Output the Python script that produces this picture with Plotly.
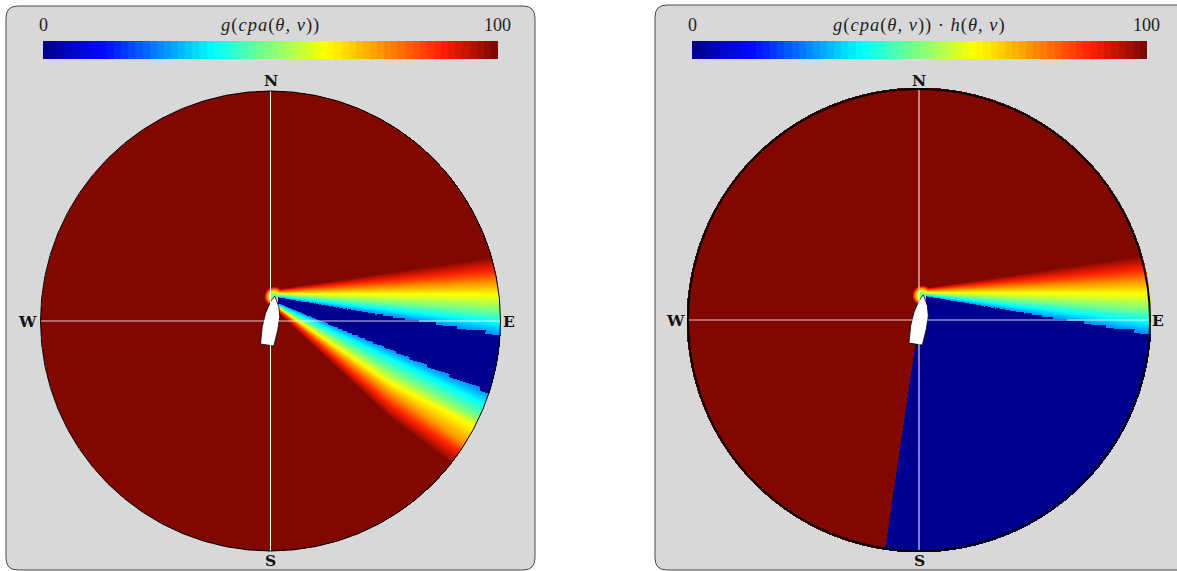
import numpy as np
import plotly.graph_objects as go

W, H = 1177, 571

# --- values; speed-plane coordinates are in units of the circle radius ---
color_stops = [[0, "rgb(0,0,143)"], [0.13, "rgb(0,10,255)"], [0.37, "rgb(0,255,255)"],
               [0.625, "rgb(255,255,0)"], [0.882, "rgb(255,32,0)"], [1, "rgb(128,8,0)"]]
bar_min, bar_max = 0, 100
bar_steps = list(np.linspace(bar_min, bar_max, 64))

band_levels = [26, 37, 50, 62, 75, 87, 99]
upper_cols = [0.029, 0.884, 1.0]
upper_band = [
    [0.1028, 0.1071, 0.1129, 0.1187, 0.1259, 0.1317, 0.1375],
    [-0.0407, 0.0042, 0.0549, 0.1129, 0.1636, 0.2071, 0.2621],
    [-0.0602, -0.0098, 0.0470, 0.1121, 0.1687, 0.2173, 0.2790],
]
lower_cols = [0.0348, 0.0652, 0.5217, 0.8696, 1.0]
lower_band = [
    [0.0761, 0.0696, 0.0652, 0.0565, 0.0500, 0.0435, 0.0326],
    [0.0630, 0.0522, 0.0435, 0.0348, 0.0283, 0.0217, 0.0043],
    [-0.1261, -0.1630, -0.2217, -0.2696, -0.3174, -0.3652, -0.4200],
    [-0.2783, -0.3304, -0.4043, -0.4478, -0.5522, -0.6000, -0.6783],
    [-0.3348, -0.3935, -0.4739, -0.5152, -0.6435, -0.6870, -0.7739],
]
blob_center = [0.0143, 0.1057]
blob_dist = [0.013, 0.0217, 0.0304, 0.037, 0.0435]
blob_vals = [50, 62, 75, 87, 100]
astern_cut_slope = 0.148   # X/Y of the stern ray in the right-hand panel

boat_x = [0.0187, 0.0361, 0.0404, 0.0317, 0.0143, -0.0435, -0.0361, -0.0217, 0.0, 0.0187]
boat_y = [0.1087, 0.0622, 0.0187, -0.0391, -0.1087, -0.1, -0.0248, 0.0335, 0.0839, 0.1087]

titles = ["<i>g</i>(<i>cpa</i>(<i>θ, v</i>))", "<i>g</i>(<i>cpa</i>(<i>θ, v</i>)) · <i>h</i>(<i>θ, v</i>)"]
bar_ticks = ["0", "100"]
compass = ["N", "S", "W", "E"]

PANELS = [dict(cx=270.5, cy=321, R=230, fieldR=230.0, rim=1.0, box=(6, 6, 535, 570),
               bar=(43, 498)),
          dict(cx=919, cy=320, R=231, fieldR=232.5, rim=2.0, box=(655, 5, 1240, 570),
               bar=(692, 1147))]


def band(X, Y, cols, table):
    """Value of the band at each point, from the table of level edges by column."""
    tab = np.asarray(table)
    edges = np.stack([np.interp(X, cols, tab[:, j]) for j in range(tab.shape[1])], axis=-1)
    out = np.zeros_like(X)
    for j in range(len(band_levels) - 1):
        a, b = edges[..., j], edges[..., j + 1]
        t = np.clip((Y - a) / np.maximum(b - a, 1e-6), 0, 1)
        out = np.where(Y >= a, band_levels[j] + t * (band_levels[j + 1] - band_levels[j]), out)
    return np.where(Y >= edges[..., -1], 100, out)


def upper(X, Y):
    return band(X, Y, upper_cols, upper_band)


def lower(X, Y):
    return band(X, -Y, lower_cols, -np.asarray(lower_band))


def snapped(X, Y, step=np.radians(1.0)):
    r = np.hypot(X, Y)
    th = np.round(np.arctan2(Y, X) / step) * step
    return r * np.cos(th), r * np.sin(th)


def stair(z, zs):
    z = np.where(zs == 0, 0, z)
    return np.where((zs > 0) & (z == 0), band_levels[0], z)


def blob(X, Y):
    d = np.hypot(X - blob_center[0], Y - blob_center[1])
    return np.interp(d, blob_dist, blob_vals)


def field(X, Y, cut):
    Xs, Ys = snapped(X, Y)
    up = stair(upper(X, Y), upper(Xs, Ys))
    if not cut:
        lo = stair(lower(X, Y), lower(Xs, Ys))
        z = np.maximum(up, lo)
        z = np.where(up == 0, lo, z)
        z = np.where((Y > 0) & (up > 0), up, z)
        z = np.where((Y < 0) & (lo > 0), lo, z)
        z = np.where(X < upper_cols[0], 100, z)
    else:
        z = np.where(X < upper_cols[0], 100, up)
        z = np.where((Y < 0) & (X < Y * astern_cut_slope), 100, z)
        z = np.where((Y < 0) & (X >= Y * astern_cut_slope) & (X < upper_cols[0]), 0, z)
    return np.minimum(z, blob(X, Y))


fig = go.Figure()
layout = dict(width=W, height=H, margin=dict(l=0, r=0, t=0, b=0), autosize=False,
              paper_bgcolor="white", plot_bgcolor="rgba(0,0,0,0)", showlegend=False)
shapes, annos = [], []


def xpx(p):
    return p / W


def ypx(p):
    return 1 - p / H


for i, P in enumerate(PANELS):
    k = 2 * i + 1
    k2 = 2 * i + 2
    half = 240
    cx, cy, R = P["cx"], P["cy"], P["R"]
    ext = half / R
    n = 2 * half
    x0, y0, x1, y1 = P["box"]
    r = 12
    shapes.append(dict(type="path", xref="paper", yref="paper", layer="below",
                       path=(f"M {xpx(x0+r)} {ypx(y0)} L {xpx(x1-r)} {ypx(y0)} "
                             f"Q {xpx(x1)} {ypx(y0)} {xpx(x1)} {ypx(y0+r)} L {xpx(x1)} {ypx(y1-r)} "
                             f"Q {xpx(x1)} {ypx(y1)} {xpx(x1-r)} {ypx(y1)} L {xpx(x0+r)} {ypx(y1)} "
                             f"Q {xpx(x0)} {ypx(y1)} {xpx(x0)} {ypx(y1-r)} L {xpx(x0)} {ypx(y0+r)} "
                             f"Q {xpx(x0)} {ypx(y0)} {xpx(x0+r)} {ypx(y0)} Z"),
                       fillcolor="#d8d8d8", line=dict(color="#4a4a4a", width=1)))
    xs = (np.arange(n) + 0.5) / n * 2 * ext - ext
    ys = xs.copy()
    X, Y = np.meshgrid(xs, ys)
    Z = field(X, Y, cut=(i == 1)).astype("float32")
    Z[np.hypot(X, Y) > P["fieldR"] / R] = np.nan
    ax = "" if k == 1 else str(k)
    fig.add_trace(go.Heatmap(x=xs.astype("float32"), y=ys.astype("float32"), z=Z,
                             colorscale=color_stops, zmin=bar_min, zmax=bar_max,
                             showscale=False, hoverinfo="skip", xaxis="x" + ax, yaxis="y" + ax))
    layout["xaxis" + ax] = dict(domain=[xpx(cx - half), xpx(cx + half)], range=[-ext, ext],
                                visible=False, fixedrange=True)
    layout["yaxis" + ax] = dict(domain=[ypx(cy + half), ypx(cy - half)], range=[-ext, ext],
                                visible=False, fixedrange=True, anchor="x" + ax)
    xr, yr = "x" + ax, "y" + ax
    shapes.append(dict(type="line", xref=xr, yref=yr, x0=0, x1=0, y0=-1, y1=1,
                       line=dict(color="white", width=1), layer="above"))
    shapes.append(dict(type="line", xref=xr, yref=yr, x0=-1, x1=1, y0=0, y1=0,
                       line=dict(color="rgba(255,255,255,0.8)", width=1), layer="above"))
    shapes.append(dict(type="circle", xref=xr, yref=yr, x0=-1, x1=1, y0=-1, y1=1,
                       line=dict(color="black", width=P["rim"]), layer="above"))
    fig.add_trace(go.Scatter(x=boat_x, y=boat_y, mode="lines", fill="toself", fillcolor="white",
                             line=dict(color="black", width=0.8), hoverinfo="skip",
                             xaxis="x" + ax, yaxis="y" + ax))
    b0, b1 = P["bar"]
    ax2 = str(k2)
    fig.add_trace(go.Heatmap(x=bar_steps, y=[0], z=[bar_steps], colorscale=color_stops,
                             zmin=bar_min, zmax=bar_max, showscale=False, hoverinfo="skip",
                             xaxis="x" + ax2, yaxis="y" + ax2))
    layout["xaxis" + ax2] = dict(domain=[xpx(b0), xpx(b1)], visible=False, fixedrange=True,
                                 range=[bar_min - 100 / 126, bar_max + 100 / 126])
    layout["yaxis" + ax2] = dict(domain=[ypx(59), ypx(41)], visible=False, fixedrange=True,
                                 range=[-0.5, 0.5], anchor="x" + ax2)
    tfont = dict(family="Liberation Serif", size=18, color="#222")
    for txt, px_ in zip(bar_ticks, (b0, b1 - 0.5)):
        annos.append(dict(text=txt, x=xpx(px_), y=ypx(25), xref="paper", yref="paper",
                          showarrow=False, font=tfont, xanchor="center", yanchor="middle"))
    annos.append(dict(text=titles[i], x=xpx(cx), y=ypx(25), xref="paper", yref="paper",
                      showarrow=False, font=dict(family="Liberation Serif", size=18.5, color="#222"),
                      xanchor="center", yanchor="middle"))
    cfont = dict(family="DejaVu Serif", size=15.5, color="#111")
    pos = [(cx, 81), (cx, 560), (cx - 243.5, cy), (cx + 238.5, cy)]
    for lab, (px_, py_) in zip(compass, pos):
        annos.append(dict(text=f"<b>{lab}</b>", x=xpx(px_), y=ypx(py_), xref="paper", yref="paper",
                          showarrow=False, font=cfont, xanchor="center", yanchor="middle"))

layout["shapes"] = shapes
layout["annotations"] = annos
fig.update_layout(**layout)
spacing = ("document.body.style.margin='0';document.body.style.overflow='hidden';"
           "document.querySelectorAll('.annotation-text').forEach(function(t){"
           "if(t.textContent.indexOf('cpa')>=0){t.style.letterSpacing='1px';}});")
fig.write_html("out.html", post_script=spacing, config=dict(displayModeBar=False))
